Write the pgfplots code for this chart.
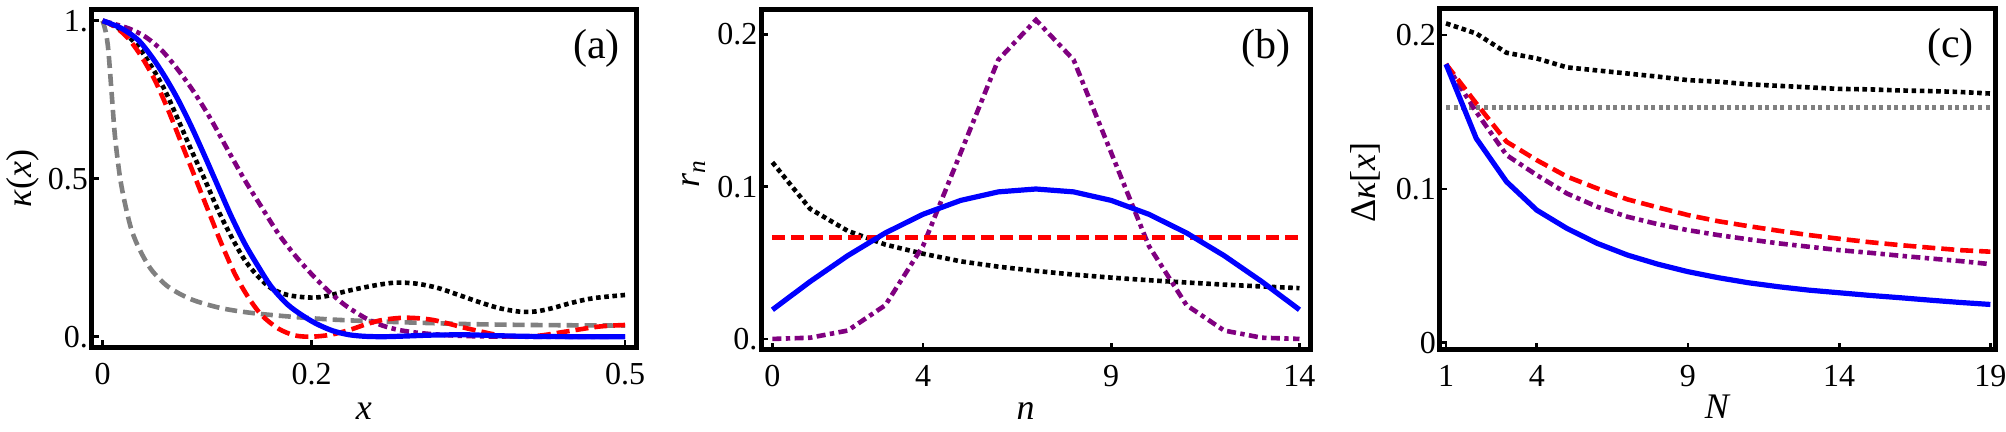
\documentclass[border=0pt]{standalone}
\usepackage{fontspec}
\setmainfont{Liberation Serif}
\usepackage{pgfplots}
\pgfplotsset{compat=1.18}
\usepackage{pgfplotstable}
\definecolor{mgray}{RGB}{128,128,128}
\definecolor{mpurple}{RGB}{128,0,128}
\definecolor{mblue}{RGB}{0,0,255}
\definecolor{mred}{RGB}{255,0,0}

% ---------- panel (a) ----------
\pgfplotstableread{
x y
0 1.000
0.003 0.965
0.0055 0.907
0.0087 0.77
0.0119 0.633
0.0166 0.506
0.0214 0.422
0.0277 0.338
0.0357 0.274
0.0469 0.211
0.0628 0.158
0.085 0.118
0.114 0.090
0.1455 0.074
0.185 0.062
0.2156 0.055
0.241 0.051
0.284 0.046
0.348 0.040
0.411 0.037
0.5 0.035
}\agray
\pgfplotstableread{
x y
0 1.0
0.0119 0.981
0.0246 0.944
0.0373 0.886
0.05 0.812
0.0628 0.717
0.0755 0.612
0.0883 0.506
0.101 0.40
0.1137 0.295
0.1264 0.20
0.139 0.127
0.152 0.069
0.168 0.026
0.184 0.004
0.200 0.0
0.218 0.006
0.236 0.021
0.252 0.039
0.268 0.053
0.29 0.060
0.316 0.053
0.348 0.027
0.38 0.004
0.40 0.0
0.42 0.004
0.443 0.016
0.475 0.032
0.5 0.037
}\ared
\pgfplotstableread{
x y
0 1.0
0.018 0.97
0.034 0.918
0.047 0.854
0.0596 0.78
0.0724 0.686
0.085 0.59
0.098 0.496
0.1106 0.40
0.1233 0.316
0.136 0.243
0.149 0.19
0.1615 0.153
0.177 0.132
0.197 0.124
0.212 0.127
0.236 0.146
0.26 0.162
0.28 0.171
0.30 0.168
0.32 0.155
0.34 0.133
0.36 0.110
0.38 0.090
0.40 0.079
0.415 0.080
0.43 0.090
0.45 0.108
0.47 0.122
0.5 0.132
}\ablack
\pgfplotstableread{
x y
0 1.0
0.018 0.976
0.034 0.939
0.047 0.886
0.0596 0.823
0.0724 0.749
0.085 0.665
0.098 0.57
0.1106 0.475
0.1233 0.38
0.136 0.295
0.149 0.222
0.1615 0.158
0.177 0.102
0.19 0.070
0.204 0.042
0.22 0.019
0.236 0.006
0.252 0.001
0.27 0.0
0.29 0.002
0.316 0.005
0.348 0.006
0.38 0.003
0.41 0.001
0.45 0.0
0.5 0.0
}\ablue
\pgfplotstableread{
x y
0 1.0
0.0246 0.976
0.0405 0.95
0.0564 0.907
0.0723 0.844
0.0883 0.77
0.104 0.686
0.12 0.59
0.136 0.496
0.152 0.411
0.168 0.327
0.184 0.258
0.2 0.198
0.216 0.145
0.232 0.10
0.252 0.058
0.268 0.035
0.284 0.021
0.3 0.013
0.316 0.008
0.348 0.002
0.4 0.0
0.5 0.0
}\apurple

% ---------- panel (b) ----------
\pgfplotstableread{
n blue red purple black
0 0.01921 0.066667 0.000061 0.1160
1 0.03769 0.066667 0.000854 0.0855
2 0.05472 0.066667 0.005554 0.0710
3 0.06964 0.066667 0.022217 0.0620
4 0.08189 0.066667 0.061096 0.0560
5 0.09099 0.066667 0.122192 0.0510
6 0.09660 0.066667 0.183289 0.0475
7 0.09849 0.066667 0.209473 0.0447
8 0.09660 0.066667 0.183289 0.0423
9 0.09099 0.066667 0.122192 0.0403
10 0.08189 0.066667 0.061096 0.0386
11 0.06964 0.066667 0.022217 0.0371
12 0.05472 0.066667 0.005554 0.0357
13 0.03769 0.066667 0.000854 0.0345
14 0.01921 0.066667 0.000061 0.0334
}\btab

% ---------- panel (c) ----------
\pgfplotstableread{
N black gray red purple blue
1 0.2076 0.1528 0.1811 0.1811 0.1811
2 0.2010 0.1528 0.1556 0.1500 0.1328
3 0.1885 0.1528 0.1307 0.1220 0.1047
4 0.1848 0.1528 0.1187 0.1090 0.0862
5 0.1790 0.1528 0.1080 0.0970 0.0743
6 0.1770 0.1528 0.1003 0.0884 0.0646
7 0.1750 0.1528 0.0932 0.0819 0.0570
8 0.1730 0.1528 0.0880 0.0771 0.0511
9 0.1707 0.1528 0.0830 0.0732 0.0462
10 0.1697 0.1528 0.0790 0.0700 0.0423
11 0.1680 0.1528 0.0758 0.0672 0.0390
12 0.1670 0.1528 0.0728 0.0646 0.0364
13 0.1660 0.1528 0.0700 0.0624 0.0342
14 0.1650 0.1528 0.0676 0.0602 0.0325
15 0.1647 0.1528 0.0654 0.0585 0.0308
16 0.1640 0.1528 0.0635 0.0566 0.0293
17 0.1636 0.1528 0.0618 0.0548 0.0277
18 0.1630 0.1528 0.0602 0.0531 0.0262
19 0.1620 0.1528 0.0592 0.0511 0.0249
}\ctab

\pgfplotsset{
  mstyle/.style={
    scale only axis, anchor=south west,
    axis line style={line width=2.5pt},
    tick align=inside, tick pos=left,
    major tick length=3.5pt,
    every tick/.style={black, line width=1.4pt},
    tick label style={font=\fontsize{16}{18}\selectfont},
    yticklabel style={xshift=1.7pt},
    xticklabel style={yshift=-4.2pt},
    /pgf/number format/assume math mode=true,
    label style={font=\fontsize{18}{20}\selectfont},
  },
  sblue/.style={mblue, line width=2.6pt},
  sred/.style={mred, line width=2.3pt, dash pattern=on 6.5pt off 3pt},
  sgray/.style={mgray, line width=2.3pt, dash pattern=on 6pt off 3pt},
  sblack/.style={black, line width=2.3pt, dash pattern=on 2.3pt off 1.8pt},
  spurple/.style={mpurple, line width=2.3pt, dash pattern=on 4.5pt off 2.2pt on 2.2pt off 2.2pt},
  sgraydot/.style={mgray, line width=2.3pt, dash pattern=on 2pt off 1.8pt},
}

\begin{document}
\begin{tikzpicture}
\path[use as bounding box] (0,0) rectangle (1003pt,216pt);

% (a)
\begin{axis}[mstyle,
  at={(45.75pt,42.25pt)}, width=272.25pt, height=168.75pt,
  xmin=-0.0106, xmax=0.5105, ymin=-0.0342, ymax=1.0339,
  xtick={0,0.2,0.5}, xticklabels={0,0.2,0.5},
  ytick={0,0.5,1}, yticklabels={0.,0.5,1.},
  xlabel={\textit{x}}, ylabel={\textit{κ}(\textit{x})},
  xlabel style={at={(axis description cs:0.5,0)}, anchor=base, yshift=-35.85pt},
  ylabel style={at={(axis description cs:-0.1255,0.5)}, anchor=center},
]
\addplot[sgray, smooth] table[x=x,y=y]{\agray};
\addplot[sblack, smooth] table[x=x,y=y]{\ablack};
\addplot[spurple, smooth] table[x=x,y=y]{\apurple};
\addplot[sred, smooth] table[x=x,y=y]{\ared};
\addplot[sblue, smooth] table[x=x,y=y]{\ablue};
\node[anchor=east, font=\fontsize{21}{24}\selectfont, xshift=-4.65pt, yshift=-19.2pt] at (rel axis cs:1,1) {(a)};
\end{axis}

% (b)
\begin{axis}[mstyle,
  at={(380.5pt,41pt)}, width=274.5pt, height=170pt,
  xmin=-0.303, xmax=14.28, ymin=-0.0072, ymax=0.216,
  xtick={0,4,9,14}, xticklabels={0,4,9,14},
  ytick={0,0.1,0.2}, yticklabels={0.,0.1,0.2},
  xlabel={\textit{n}}, ylabel={\textit{r}\textsubscript{\textit{n}}},
  xlabel style={at={(axis description cs:0.5,0)}, anchor=base, yshift=-35pt, xshift=-5pt},
  ylabel style={at={(axis description cs:-0.122,0.518)}, anchor=center},
]
\addplot[sblack] table[x=n,y=black]{\btab};
\addplot[spurple] table[x=n,y=purple]{\btab};
\addplot[sred] table[x=n,y=red]{\btab};
\addplot[sblue] table[x=n,y=blue]{\btab};
\node[anchor=east, font=\fontsize{21}{24}\selectfont, xshift=-6.35pt, yshift=-19.2pt] at (rel axis cs:1,1) {(b)};
\end{axis}

% (c)
\begin{axis}[mstyle,
  at={(719.8pt,41pt)}, width=278.1pt, height=170.85pt,
  xmin=0.788, xmax=19.18, ymin=-0.0047, ymax=0.2174,
  xtick={1,4,9,14,19}, xticklabels={1,4,9,14,19},
  ytick={0,0.1,0.2}, yticklabels={0,0.1,0.2},
  xlabel={\textit{N}}, ylabel={Δ\textit{κ}[\textit{x}]},
  xlabel style={at={(axis description cs:0.5,0)}, anchor=base, yshift=-34.2pt},
  ylabel style={at={(axis description cs:-0.1326,0.49)}, anchor=center},
]
\addplot[sblack] table[x=N,y=black]{\ctab};
\addplot[sgraydot] table[x=N,y=gray]{\ctab};
\addplot[spurple] table[x=N,y=purple]{\ctab};
\addplot[sred] table[x=N,y=red]{\ctab};
\addplot[sblue] table[x=N,y=blue]{\ctab};
\node[anchor=east, font=\fontsize{21}{24}\selectfont, xshift=-7.5pt, yshift=-19.6pt] at (rel axis cs:1,1) {(c)};
\end{axis}
\end{tikzpicture}
\end{document}
